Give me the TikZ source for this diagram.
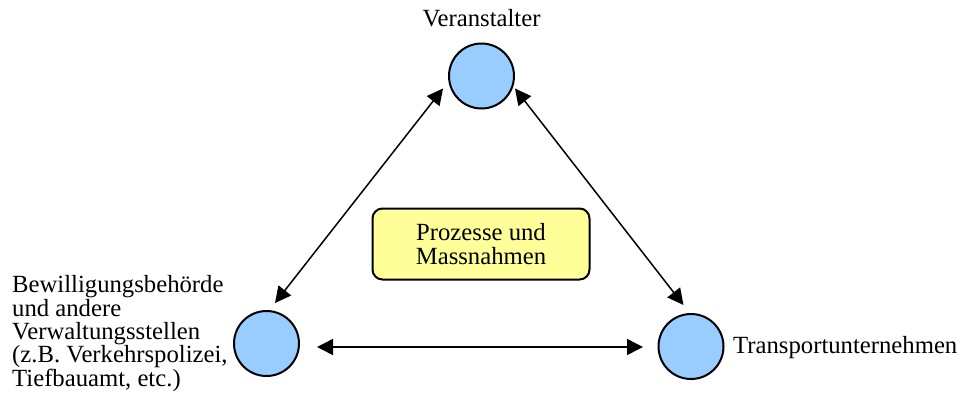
\documentclass[tikz,border=0pt]{standalone}
\usepackage{fontspec}
\setmainfont{Liberation Serif}
\usetikzlibrary{arrows.meta}
\definecolor{circfill}{HTML}{99CCFF}
\definecolor{boxfill}{HTML}{FFFF99}
\begin{document}
\begin{tikzpicture}[x=1pt,y=-1pt,
  txt/.style={font=\fontsize{24.7pt}{23.3pt}\selectfont, inner sep=0pt},
  party/.style={circle, draw=black, line width=2pt, fill=circfill, minimum size=65pt, inner sep=0pt},
  procbox/.style={draw=black, line width=2pt, fill=boxfill, rounded corners=10pt,
    minimum width=217pt, minimum height=71pt, align=center, txt},
  link/.style={line width=1.5pt, {Triangle[length=16pt,width=16pt]}-{Triangle[length=16pt,width=16pt]}}]
\useasboundingbox (0,0) rectangle (963,402);
% parties
\node[party] (T) at (481.5,76) {};
\node[party] (L) at (266.5,343.5) {};
\node[party] (R) at (691,346.5) {};
% labels
\node[txt, anchor=base] (Tlab) at (481.5,26) {Veranstalter};
\node[txt, anchor=base west, align=left] (Llab) at (12,386) {Bewilligungsbehörde\\und andere\\Verwaltungsstellen\\(z.B. Verkehrspolizei,\\Tiefbauamt, etc.)};
\node[txt, anchor=base west] (Rlab) at (733,353.5) {Transportunternehmen};
% centre box
\node[procbox] (P) at (481,244) {Prozesse und\\Massnahmen};
% connector ends
\coordinate (LT) at (275,303);
\coordinate (TL) at (443,88.5);
\coordinate (TR) at (515,88.5);
\coordinate (RT) at (683.5,305);
\coordinate (LR) at (317,347);
\coordinate (RL) at (643,347);
\draw[link] (LT) -- (TL);
\draw[link] (TR) -- (RT);
\draw[link] (LR) -- (RL);
\end{tikzpicture}
\end{document}
